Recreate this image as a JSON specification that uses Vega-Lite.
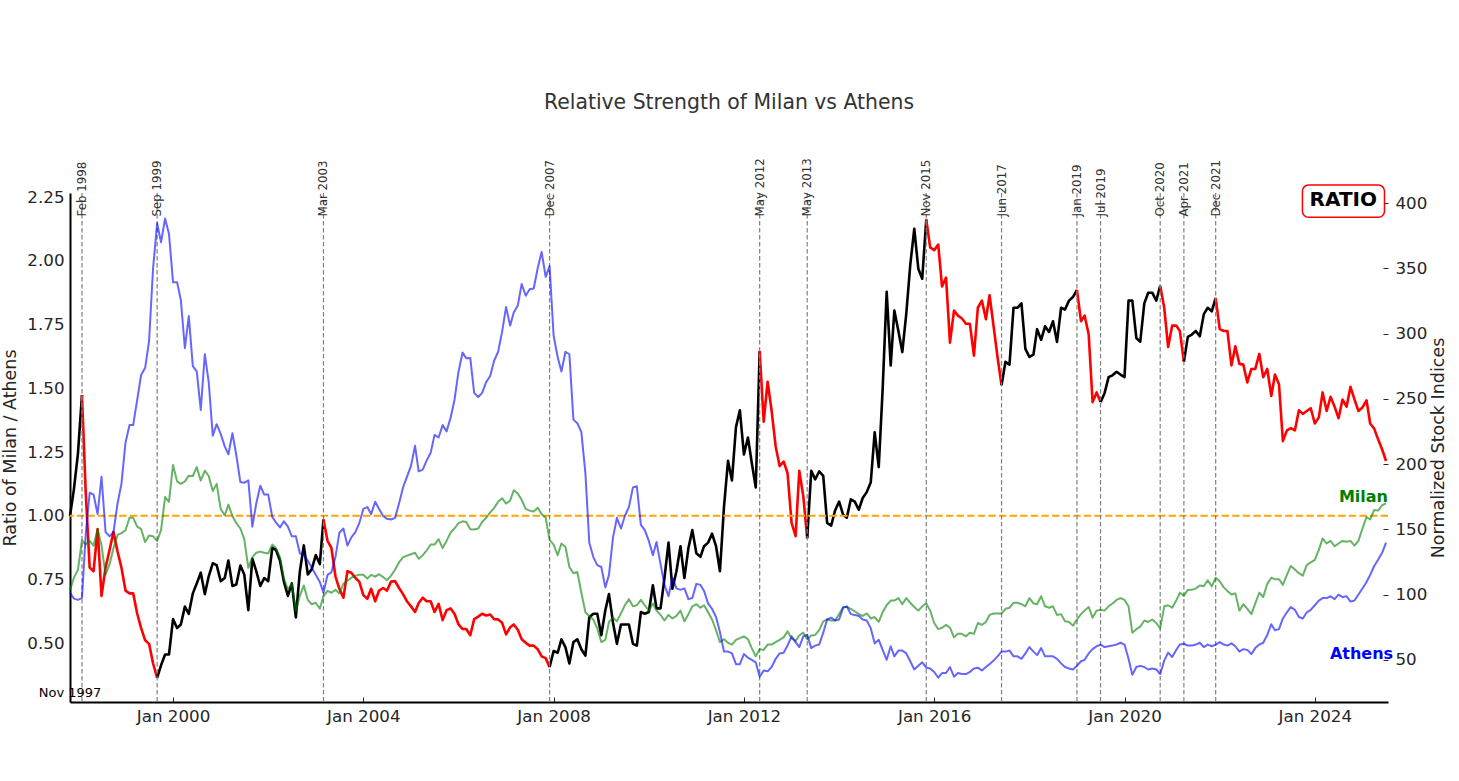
{
"$schema":"https://vega.github.io/schema/vega-lite/v6.json",
"width":1318,"height":509,
"autosize":{"type":"none"},
"padding":{"left":70,"top":193,"right":71,"bottom":79},
"background":"white",
"config":{"view":{"stroke":null},"font":"DejaVu Sans"},
"title":{"text":"Relative Strength of Milan vs Athens","frame":"group","anchor":"middle","offset":45,"fontSize":20.4,"fontWeight":"normal","color":"#333333","font":"DejaVu Sans"},
"datasets":{
"events":[{"date":"1998-02","label":"Feb 1998"},{"date":"1999-09","label":"Sep 1999"},{"date":"2003-03","label":"Mar 2003"},{"date":"2007-12","label":"Dec 2007"},{"date":"2012-05","label":"May 2012"},{"date":"2013-05","label":"May 2013"},{"date":"2015-11","label":"Nov 2015"},{"date":"2017-06","label":"Jun 2017"},{"date":"2019-01","label":"Jan 2019"},{"date":"2019-07","label":"Jul 2019"},{"date":"2020-10","label":"Oct 2020"},{"date":"2021-04","label":"Apr 2021"},{"date":"2021-12","label":"Dec 2021"}],
"milan":[
{"date":"1997-11","value":103.5},{"date":"1997-12","value":113},
{"date":"1998-01","value":119},{"date":"1998-02","value":141.7},{"date":"1998-03","value":138.4},{"date":"1998-04","value":141.2},{"date":"1998-05","value":137.6},{"date":"1998-06","value":150.2},{"date":"1998-07","value":137.6},{"date":"1998-08","value":115.2},{"date":"1998-09","value":123.4},{"date":"1998-10","value":135.7},{"date":"1998-11","value":145.8},{"date":"1998-12","value":147.2},
{"date":"1999-01","value":149.4},{"date":"1999-02","value":158.9},{"date":"1999-03","value":158.9},{"date":"1999-04","value":152.1},{"date":"1999-05","value":150.2},{"date":"1999-06","value":140.3},{"date":"1999-07","value":145.3},{"date":"1999-08","value":144.7},{"date":"1999-09","value":141.2},{"date":"1999-10","value":149.4},{"date":"1999-11","value":174.8},{"date":"1999-12","value":171.2},
{"date":"2000-01","value":199.4},{"date":"2000-02","value":186.8},{"date":"2000-03","value":184.9},{"date":"2000-04","value":186.8},{"date":"2000-05","value":191.2},{"date":"2000-06","value":190.9},{"date":"2000-07","value":197.7},{"date":"2000-08","value":187.4},{"date":"2000-09","value":195.0},{"date":"2000-10","value":190.9},{"date":"2000-11","value":179.4},{"date":"2000-12","value":184.9},
{"date":"2001-01","value":165.7},{"date":"2001-02","value":160.8},{"date":"2001-03","value":169.0},{"date":"2001-04","value":160.3},{"date":"2001-05","value":154.8},{"date":"2001-06","value":150.7},{"date":"2001-07","value":142.5},{"date":"2001-08","value":120.6},{"date":"2001-09","value":128.8},{"date":"2001-10","value":132.1},{"date":"2001-11","value":133.0},{"date":"2001-12","value":132.1},
{"date":"2002-01","value":131.6},{"date":"2002-02","value":138.4},{"date":"2002-03","value":135.7},{"date":"2002-04","value":128.8},{"date":"2002-05","value":112.4},{"date":"2002-06","value":104.2},{"date":"2002-07","value":108.3},{"date":"2002-08","value":87.8},{"date":"2002-09","value":99.3},{"date":"2002-10","value":107.0},{"date":"2002-11","value":96.0},{"date":"2002-12","value":92.7},
{"date":"2003-01","value":93.8},{"date":"2003-02","value":89.2},{"date":"2003-03","value":98.8},{"date":"2003-04","value":102.9},{"date":"2003-05","value":101.5},{"date":"2003-06","value":103.7},{"date":"2003-07","value":101.0},{"date":"2003-08","value":108.3},{"date":"2003-10","value":113.0},{"date":"2003-11","value":114.6},{"date":"2003-12","value":115.2},
{"date":"2004-01","value":115.2},{"date":"2004-02","value":112.4},{"date":"2004-03","value":115.2},{"date":"2004-04","value":113.8},{"date":"2004-05","value":115.7},{"date":"2004-06","value":113.5},{"date":"2004-07","value":111.1},{"date":"2004-08","value":114.6},{"date":"2004-09","value":119.3},{"date":"2004-10","value":124.7},{"date":"2004-11","value":128.8},
{"date":"2005-02","value":132.1},{"date":"2005-03","value":127.5},{"date":"2005-04","value":130.3},{"date":"2005-05","value":133.8},{"date":"2005-06","value":138.4},{"date":"2005-07","value":138.4},{"date":"2005-08","value":142.5},{"date":"2005-09","value":135.7},{"date":"2005-10","value":141.2},{"date":"2005-11","value":147.5},{"date":"2005-12","value":150.7},
{"date":"2006-01","value":154.8},{"date":"2006-02","value":156.2},{"date":"2006-03","value":155.7},{"date":"2006-04","value":150.2},{"date":"2006-05","value":149.9},{"date":"2006-06","value":150.7},{"date":"2006-07","value":155.7},{"date":"2006-08","value":158.9},{"date":"2006-09","value":163.0},{"date":"2006-10","value":166.3},{"date":"2006-11","value":171.2},{"date":"2006-12","value":173.9},
{"date":"2007-01","value":169.8},{"date":"2007-02","value":172.0},{"date":"2007-03","value":180.0},{"date":"2007-04","value":177.5},{"date":"2007-05","value":172.6},{"date":"2007-06","value":165.7},{"date":"2007-07","value":164.4},{"date":"2007-08","value":163.8},{"date":"2007-09","value":166.6},{"date":"2007-10","value":161.7},{"date":"2007-11","value":158.9},{"date":"2007-12","value":142.0},
{"date":"2008-01","value":138.4},{"date":"2008-02","value":130.2},{"date":"2008-03","value":139.2},{"date":"2008-04","value":136.5},{"date":"2008-05","value":121.2},{"date":"2008-06","value":116.5},{"date":"2008-07","value":117.4},{"date":"2008-08","value":101.5},{"date":"2008-09","value":86.5},{"date":"2008-10","value":83.7},{"date":"2008-11","value":81.0},{"date":"2008-12","value":74.2},
{"date":"2009-01","value":63.7},{"date":"2009-02","value":65.4},{"date":"2009-03","value":79.1},{"date":"2009-04","value":82.4},{"date":"2009-05","value":79.6},{"date":"2009-06","value":85.7},{"date":"2009-07","value":91.9},{"date":"2009-08","value":96.6},{"date":"2009-09","value":91.1},{"date":"2009-10","value":91.9},{"date":"2009-11","value":96.0},{"date":"2009-12","value":91.9},
{"date":"2010-01","value":87.8},{"date":"2010-02","value":93.3},{"date":"2010-03","value":87.8},{"date":"2010-04","value":84.5},{"date":"2010-05","value":80.2},{"date":"2010-06","value":84.5},{"date":"2010-07","value":81.8},{"date":"2010-08","value":83.7},{"date":"2010-09","value":87.8},{"date":"2010-10","value":79.6},{"date":"2010-11","value":85.1},{"date":"2010-12","value":91.1},
{"date":"2011-01","value":92.7},{"date":"2011-02","value":90.0},{"date":"2011-03","value":91.9},{"date":"2011-04","value":86.5},{"date":"2011-05","value":81.0},{"date":"2011-06","value":72.8},{"date":"2011-07","value":63.7},{"date":"2011-08","value":65.9},{"date":"2011-09","value":63.2},{"date":"2011-10","value":61.8},{"date":"2011-11","value":65.4},
{"date":"2012-01","value":68.1},{"date":"2012-02","value":65.9},{"date":"2012-03","value":59.1},{"date":"2012-04","value":52.8},{"date":"2012-05","value":58.3},{"date":"2012-06","value":57.7},{"date":"2012-07","value":61.8},{"date":"2012-08","value":61.8},{"date":"2012-09","value":63.7},{"date":"2012-10","value":65.4},{"date":"2012-11","value":67.3},{"date":"2012-12","value":72.0},
{"date":"2013-01","value":66.5},{"date":"2013-02","value":64.6},{"date":"2013-03","value":68.7},{"date":"2013-04","value":70.9},{"date":"2013-05","value":65.9},{"date":"2013-06","value":68.7},{"date":"2013-07","value":69.2},{"date":"2013-08","value":72.8},{"date":"2013-09","value":79.6},{"date":"2013-10","value":81.0},{"date":"2013-11","value":80.2},{"date":"2013-12","value":80.2},
{"date":"2014-01","value":85.1},{"date":"2014-02","value":90.6},{"date":"2014-03","value":90.6},{"date":"2014-04","value":89.2},{"date":"2014-05","value":87.3},{"date":"2014-06","value":85.1},{"date":"2014-07","value":83.7},{"date":"2014-08","value":85.6},{"date":"2014-09","value":81.8},{"date":"2014-10","value":82.9},{"date":"2014-11","value":79.1},{"date":"2014-12","value":86.5},
{"date":"2015-01","value":91.9},{"date":"2015-02","value":95.5},{"date":"2015-03","value":95.5},{"date":"2015-04","value":97.4},{"date":"2015-05","value":92.7},{"date":"2015-06","value":97.4},{"date":"2015-07","value":93.8},{"date":"2015-08","value":90.6},{"date":"2015-09","value":87.8},{"date":"2015-10","value":91.1},{"date":"2015-11","value":93.3},{"date":"2015-12","value":87.8},
{"date":"2016-01","value":78.3},{"date":"2016-02","value":73.6},{"date":"2016-03","value":74.7},{"date":"2016-04","value":76.9},{"date":"2016-05","value":74.7},{"date":"2016-06","value":67.3},{"date":"2016-07","value":70.0},{"date":"2016-08","value":70.0},{"date":"2016-09","value":68.1},{"date":"2016-10","value":70.9},{"date":"2016-11","value":70.0},{"date":"2016-12","value":78.3},
{"date":"2017-01","value":76.9},{"date":"2017-02","value":79.1},{"date":"2017-03","value":84.5},{"date":"2017-04","value":85.6},{"date":"2017-05","value":85.6},{"date":"2017-06","value":85.6},{"date":"2017-07","value":89.2},{"date":"2017-08","value":90.0},{"date":"2017-09","value":93.8},{"date":"2017-10","value":93.8},{"date":"2017-11","value":92.7},{"date":"2017-12","value":91.1},
{"date":"2018-01","value":97.4},{"date":"2018-02","value":93.3},{"date":"2018-03","value":92.7},{"date":"2018-04","value":98.8},{"date":"2018-05","value":91.1},{"date":"2018-06","value":90.0},{"date":"2018-07","value":91.1},{"date":"2018-08","value":84.5},{"date":"2018-09","value":85.1},{"date":"2018-10","value":79.6},{"date":"2018-11","value":79.1},{"date":"2018-12","value":76.3},
{"date":"2019-01","value":81.0},{"date":"2019-02","value":85.1},{"date":"2019-03","value":87.8},{"date":"2019-04","value":90.6},{"date":"2019-05","value":82.4},{"date":"2019-06","value":87.8},{"date":"2019-07","value":88.4},{"date":"2019-08","value":87.8},{"date":"2019-09","value":91.1},{"date":"2019-10","value":93.3},{"date":"2019-11","value":96.0},{"date":"2019-12","value":97.4},
{"date":"2020-01","value":96.0},{"date":"2020-02","value":91.1},{"date":"2020-03","value":70.9},{"date":"2020-04","value":73.6},{"date":"2020-05","value":75.5},{"date":"2020-06","value":80.2},{"date":"2020-07","value":79.1},{"date":"2020-08","value":81.0},{"date":"2020-09","value":78.3},{"date":"2020-10","value":74.2},{"date":"2020-11","value":91.1},{"date":"2020-12","value":91.9},
{"date":"2021-01","value":90.0},{"date":"2021-02","value":95.5},{"date":"2021-03","value":101.5},{"date":"2021-04","value":99.3},{"date":"2021-05","value":103.7},{"date":"2021-06","value":103.7},{"date":"2021-07","value":104.8},{"date":"2021-08","value":107.0},{"date":"2021-09","value":106.4},{"date":"2021-10","value":111.1},{"date":"2021-11","value":106.4},{"date":"2021-12","value":113.0},
{"date":"2022-01","value":110.3},{"date":"2022-02","value":105.6},{"date":"2022-03","value":102.9},{"date":"2022-04","value":100.1},{"date":"2022-05","value":101.0},{"date":"2022-06","value":87.8},{"date":"2022-07","value":92.7},{"date":"2022-08","value":89.2},{"date":"2022-09","value":85.1},{"date":"2022-10","value":93.3},{"date":"2022-11","value":101.5},{"date":"2022-12","value":98.2},
{"date":"2023-01","value":108.3},{"date":"2023-02","value":113.0},{"date":"2023-03","value":111.9},{"date":"2023-04","value":111.9},{"date":"2023-05","value":107.5},{"date":"2023-06","value":115.2},{"date":"2023-07","value":122.0},{"date":"2023-08","value":119.3},{"date":"2023-09","value":116.5},{"date":"2023-10","value":114.6},{"date":"2023-11","value":122.8},{"date":"2023-12","value":124.7},
{"date":"2024-01","value":126.7},{"date":"2024-02","value":134.3},{"date":"2024-03","value":143.1},{"date":"2024-04","value":139.2},{"date":"2024-05","value":141.2},{"date":"2024-06","value":137.1},{"date":"2024-07","value":139.2},{"date":"2024-08","value":141.2},{"date":"2024-09","value":140.6},{"date":"2024-10","value":141.2},{"date":"2024-11","value":137.6},{"date":"2024-12","value":141.2},
{"date":"2025-01","value":150.7},{"date":"2025-02","value":159.5},{"date":"2025-03","value":157.6},{"date":"2025-04","value":164.9},{"date":"2025-05","value":164.4},{"date":"2025-06","value":168.5},{"date":"2025-07","value":169.9}
],
"athens":[
{"date":"1997-11","value":101.4},{"date":"1997-12","value":97},
{"date":"1998-01","value":96},{"date":"1998-02","value":97.5},{"date":"1998-03","value":145},{"date":"1998-04","value":178.1},{"date":"1998-05","value":176.7},{"date":"1998-06","value":161.7},{"date":"1998-07","value":190.4},{"date":"1998-08","value":148.0},{"date":"1998-09","value":144.7},{"date":"1998-10","value":148.0},{"date":"1998-11","value":169.9},{"date":"1998-12","value":184.9},
{"date":"1999-01","value":216.4},{"date":"1999-02","value":230.0},{"date":"1999-03","value":230.0},{"date":"1999-04","value":249.2},{"date":"1999-05","value":268.3},{"date":"1999-06","value":273.8},{"date":"1999-07","value":294.3},{"date":"1999-08","value":350.3},{"date":"1999-09","value":384.5},{"date":"1999-10","value":370.0},{"date":"1999-11","value":388.1},{"date":"1999-12","value":376.3},
{"date":"2000-01","value":339.4},{"date":"2000-02","value":339.4},{"date":"2000-03","value":325.7},{"date":"2000-04","value":288.8},{"date":"2000-05","value":313.4},{"date":"2000-06","value":275.1},{"date":"2000-07","value":271.0},{"date":"2000-08","value":241.5},{"date":"2000-09","value":284.2},{"date":"2000-10","value":262.8},{"date":"2000-11","value":221.8},{"date":"2000-12","value":230.6},
{"date":"2001-01","value":223.2},{"date":"2001-02","value":213.6},{"date":"2001-03","value":207.6},{"date":"2001-04","value":223.7},{"date":"2001-05","value":206.8},{"date":"2001-06","value":186.3},{"date":"2001-07","value":185.7},{"date":"2001-08","value":187.6},{"date":"2001-09","value":152.1},{"date":"2001-10","value":169.9},{"date":"2001-11","value":183.5},{"date":"2001-12","value":176.7},
{"date":"2002-01","value":176.7},{"date":"2002-02","value":159.5},{"date":"2002-03","value":155.4},{"date":"2002-04","value":151.5},{"date":"2002-05","value":156.2},{"date":"2002-06","value":152.1},{"date":"2002-07","value":144.7},{"date":"2002-08","value":144.7},{"date":"2002-09","value":131.6},{"date":"2002-10","value":130.2},{"date":"2002-11","value":126.1},{"date":"2002-12","value":120.6},
{"date":"2003-01","value":115.2},{"date":"2003-02","value":109.7},{"date":"2003-03","value":101.5},{"date":"2003-04","value":115.2},{"date":"2003-05","value":117.1},{"date":"2003-06","value":128.8},{"date":"2003-07","value":147.5},{"date":"2003-08","value":150.7},{"date":"2003-09","value":137.6},{"date":"2003-10","value":143.9},{"date":"2003-11","value":148.0},{"date":"2003-12","value":154.8},
{"date":"2004-01","value":165.7},{"date":"2004-02","value":167.1},{"date":"2004-03","value":161.7},{"date":"2004-04","value":171.2},{"date":"2004-05","value":165.7},{"date":"2004-06","value":160.3},{"date":"2004-07","value":158.1},{"date":"2004-08","value":157.6},{"date":"2004-09","value":158.9},{"date":"2004-10","value":169.9},{"date":"2004-11","value":182.2},
{"date":"2005-01","value":198.6},{"date":"2005-02","value":214.1},{"date":"2005-03","value":194.5},{"date":"2005-04","value":195.8},{"date":"2005-05","value":202.7},{"date":"2005-06","value":208.7},{"date":"2005-07","value":222.4},{"date":"2005-08","value":220.4},{"date":"2005-09","value":230.0},{"date":"2005-10","value":225.1},{"date":"2005-11","value":235.5},{"date":"2005-12","value":249.2},
{"date":"2006-01","value":271.0},{"date":"2006-02","value":285.5},{"date":"2006-03","value":281.2},{"date":"2006-04","value":281.4},{"date":"2006-05","value":254.6},{"date":"2006-06","value":251.4},{"date":"2006-07","value":254.6},{"date":"2006-08","value":262.8},{"date":"2006-09","value":267.5},{"date":"2006-10","value":279.2},{"date":"2006-11","value":286.1},{"date":"2006-12","value":301.1},
{"date":"2007-01","value":320.3},{"date":"2007-02","value":306.1},{"date":"2007-03","value":316.2},{"date":"2007-04","value":321.6},{"date":"2007-05","value":338.0},{"date":"2007-06","value":329.0},{"date":"2007-07","value":333.9},{"date":"2007-08","value":334.5},{"date":"2007-09","value":350.3},{"date":"2007-10","value":362.6},{"date":"2007-11","value":343.5},{"date":"2007-12","value":351.7},
{"date":"2008-01","value":298.4},{"date":"2008-02","value":282.0},{"date":"2008-03","value":271.0},{"date":"2008-04","value":286.1},{"date":"2008-05","value":284.2},{"date":"2008-06","value":234.1},{"date":"2008-07","value":231.4},{"date":"2008-08","value":224.5},{"date":"2008-09","value":193.1},{"date":"2008-10","value":139.8},{"date":"2008-11","value":128.8},{"date":"2008-12","value":122.6},
{"date":"2009-01","value":121.2},{"date":"2009-02","value":105.6},{"date":"2009-03","value":115.2},{"date":"2009-04","value":143.9},{"date":"2009-05","value":158.9},{"date":"2009-06","value":150.7},{"date":"2009-07","value":160.3},{"date":"2009-08","value":167.1},{"date":"2009-09","value":182.2},{"date":"2009-10","value":183.0},{"date":"2009-11","value":153.5},{"date":"2009-12","value":149.4},
{"date":"2010-01","value":141.2},{"date":"2010-02","value":130.2},{"date":"2010-03","value":140.3},{"date":"2010-04","value":123.4},{"date":"2010-05","value":107.5},{"date":"2010-06","value":98.8},{"date":"2010-07","value":113.0},{"date":"2010-08","value":104.8},{"date":"2010-09","value":103.7},{"date":"2010-10","value":104.8},{"date":"2010-11","value":96.6},{"date":"2010-12","value":97.4},
{"date":"2011-01","value":108.3},{"date":"2011-02","value":107.5},{"date":"2011-03","value":102.9},{"date":"2011-04","value":93.3},{"date":"2011-05","value":89.2},{"date":"2011-06","value":82.9},{"date":"2011-07","value":71.4},{"date":"2011-08","value":56.4},{"date":"2011-09","value":56.4},{"date":"2011-10","value":55.0},{"date":"2011-11","value":46.8},{"date":"2011-12","value":46.8},
{"date":"2012-01","value":54.5},{"date":"2012-02","value":51.7},{"date":"2012-03","value":50.1},{"date":"2012-04","value":48.2},{"date":"2012-05","value":37.2},{"date":"2012-06","value":41.9},{"date":"2012-07","value":41.3},{"date":"2012-08","value":44.6},{"date":"2012-09","value":50.9},{"date":"2012-10","value":55.0},{"date":"2012-11","value":55.6},{"date":"2012-12","value":61.0},
{"date":"2013-01","value":68.1},{"date":"2013-02","value":63.7},{"date":"2013-03","value":59.9},{"date":"2013-04","value":68.1},{"date":"2013-05","value":69.2},{"date":"2013-06","value":59.1},{"date":"2013-07","value":61.0},{"date":"2013-08","value":61.8},{"date":"2013-09","value":70.9},{"date":"2013-10","value":81.0},{"date":"2013-11","value":82.4},{"date":"2013-12","value":80.2},
{"date":"2014-01","value":81.0},{"date":"2014-02","value":90.0},{"date":"2014-03","value":91.1},{"date":"2014-04","value":85.1},{"date":"2014-05","value":84.5},{"date":"2014-06","value":83.7},{"date":"2014-07","value":81.0},{"date":"2014-08","value":80.2},{"date":"2014-09","value":74.2},{"date":"2014-10","value":62.7},{"date":"2014-11","value":65.4},{"date":"2014-12","value":57.7},
{"date":"2015-01","value":50.1},{"date":"2015-02","value":60.5},{"date":"2015-03","value":52.8},{"date":"2015-04","value":57.2},{"date":"2015-05","value":57.2},{"date":"2015-06","value":55.0},{"date":"2015-07","value":49.0},{"date":"2015-08","value":42.7},{"date":"2015-09","value":45.5},{"date":"2015-10","value":48.2},{"date":"2015-11","value":44.1},{"date":"2015-12","value":43.5},
{"date":"2016-01","value":40.8},{"date":"2016-02","value":36.4},{"date":"2016-03","value":40.0},{"date":"2016-04","value":40.0},{"date":"2016-05","value":44.6},{"date":"2016-06","value":37.2},{"date":"2016-07","value":40.0},{"date":"2016-08","value":39.2},{"date":"2016-09","value":39.2},{"date":"2016-10","value":40.8},{"date":"2016-11","value":43.5},{"date":"2016-12","value":44.1},
{"date":"2017-01","value":41.9},{"date":"2017-02","value":44.6},{"date":"2017-03","value":46.8},{"date":"2017-04","value":49.5},{"date":"2017-05","value":52.8},{"date":"2017-06","value":56.4},{"date":"2017-07","value":56.4},{"date":"2017-08","value":57.2},{"date":"2017-09","value":52.8},{"date":"2017-10","value":52.8},{"date":"2017-11","value":50.9},{"date":"2017-12","value":55.0},
{"date":"2018-01","value":59.9},{"date":"2018-02","value":56.4},{"date":"2018-03","value":53.7},{"date":"2018-04","value":59.1},{"date":"2018-05","value":52.8},{"date":"2018-06","value":52.8},{"date":"2018-07","value":52.8},{"date":"2018-08","value":50.9},{"date":"2018-09","value":47.4},{"date":"2018-10","value":44.6},{"date":"2018-11","value":43.5},{"date":"2018-12","value":42.7},
{"date":"2019-01","value":45.5},{"date":"2019-02","value":49.0},{"date":"2019-03","value":50.1},{"date":"2019-04","value":55.0},{"date":"2019-05","value":58.3},{"date":"2019-06","value":60.5},{"date":"2019-07","value":61.8},{"date":"2019-08","value":59.9},{"date":"2019-09","value":60.5},{"date":"2019-10","value":61.0},{"date":"2019-11","value":61.8},{"date":"2019-12","value":63.2},
{"date":"2020-01","value":61.8},{"date":"2020-02","value":50.9},{"date":"2020-03","value":38.6},{"date":"2020-04","value":44.6},{"date":"2020-05","value":45.5},{"date":"2020-06","value":44.6},{"date":"2020-07","value":42.7},{"date":"2020-08","value":43.5},{"date":"2020-09","value":42.7},{"date":"2020-10","value":39.2},{"date":"2020-11","value":49.5},{"date":"2020-12","value":55.6},
{"date":"2021-01","value":52.3},{"date":"2021-02","value":57.7},{"date":"2021-03","value":61.8},{"date":"2021-04","value":62.4},{"date":"2021-05","value":61.0},{"date":"2021-06","value":61.0},{"date":"2021-07","value":61.8},{"date":"2021-08","value":63.2},{"date":"2021-09","value":59.9},{"date":"2021-10","value":61.8},{"date":"2021-11","value":60.5},{"date":"2021-12","value":61.8},
{"date":"2022-01","value":63.7},{"date":"2022-02","value":61.8},{"date":"2022-03","value":61.0},{"date":"2022-04","value":62.7},{"date":"2022-05","value":60.5},{"date":"2022-06","value":56.4},{"date":"2022-07","value":58.3},{"date":"2022-08","value":57.7},{"date":"2022-09","value":54.5},{"date":"2022-10","value":59.1},{"date":"2022-11","value":61.8},{"date":"2022-12","value":63.2},
{"date":"2023-01","value":69.2},{"date":"2023-02","value":77.4},{"date":"2023-03","value":72.8},{"date":"2023-04","value":73.6},{"date":"2023-05","value":81.8},{"date":"2023-06","value":86.5},{"date":"2023-07","value":90.6},{"date":"2023-08","value":88.4},{"date":"2023-09","value":82.9},{"date":"2023-10","value":81.8},{"date":"2023-11","value":86.5},{"date":"2023-12","value":88.4},
{"date":"2024-01","value":91.9},{"date":"2024-02","value":95.5},{"date":"2024-03","value":97.4},{"date":"2024-04","value":97.4},{"date":"2024-05","value":98.8},{"date":"2024-06","value":96.6},{"date":"2024-07","value":100.1},{"date":"2024-08","value":98.2},{"date":"2024-09","value":98.8},{"date":"2024-10","value":94.7},{"date":"2024-11","value":95.5},{"date":"2024-12","value":100.1},
{"date":"2025-01","value":104.8},{"date":"2025-02","value":109.7},{"date":"2025-03","value":115.2},{"date":"2025-04","value":122.0},{"date":"2025-05","value":126.7},{"date":"2025-06","value":132.1},{"date":"2025-07","value":139.8}
],
"ratio":[
{"date":"1997-11","ratio":1.0,"seg":0},{"date":"1997-12","ratio":1.104,"seg":0},{"date":"1998-01","ratio":1.244,"seg":0},{"date":"1998-02","ratio":1.474,"seg":0},
{"date":"1998-02","ratio":1.474,"seg":1},{"date":"1998-03","ratio":1.10,"seg":1},{"date":"1998-04","ratio":0.797,"seg":1},{"date":"1998-05","ratio":0.783,"seg":1},{"date":"1998-06","ratio":0.948,"seg":1},{"date":"1998-07","ratio":0.686,"seg":1},{"date":"1998-08","ratio":0.797,"seg":1},{"date":"1998-09","ratio":0.867,"seg":1},{"date":"1998-10","ratio":0.937,"seg":1},{"date":"1998-11","ratio":0.860,"seg":1},{"date":"1998-12","ratio":0.797,"seg":1},{"date":"1999-01","ratio":0.707,"seg":1},{"date":"1999-02","ratio":0.696,"seg":1},{"date":"1999-03","ratio":0.696,"seg":1},{"date":"1999-04","ratio":0.616,"seg":1},{"date":"1999-05","ratio":0.560,"seg":1},{"date":"1999-06","ratio":0.512,"seg":1},{"date":"1999-07","ratio":0.498,"seg":1},{"date":"1999-08","ratio":0.421,"seg":1},{"date":"1999-09","ratio":0.365,"seg":1},
{"date":"1999-09","ratio":0.365,"seg":2},{"date":"1999-10","ratio":0.414,"seg":2},{"date":"1999-11","ratio":0.456,"seg":2},{"date":"1999-12","ratio":0.456,"seg":2},
{"date":"2000-01","ratio":0.595,"seg":2},{"date":"2000-02","ratio":0.560,"seg":2},{"date":"2000-03","ratio":0.574,"seg":2},{"date":"2000-04","ratio":0.644,"seg":2},{"date":"2000-05","ratio":0.616,"seg":2},{"date":"2000-06","ratio":0.696,"seg":2},{"date":"2000-07","ratio":0.735,"seg":2},{"date":"2000-08","ratio":0.777,"seg":2},{"date":"2000-09","ratio":0.693,"seg":2},{"date":"2000-10","ratio":0.763,"seg":2},{"date":"2000-11","ratio":0.814,"seg":2},{"date":"2000-12","ratio":0.807,"seg":2},
{"date":"2001-01","ratio":0.744,"seg":2},{"date":"2001-02","ratio":0.756,"seg":2},{"date":"2001-03","ratio":0.825,"seg":2},{"date":"2001-04","ratio":0.725,"seg":2},{"date":"2001-05","ratio":0.731,"seg":2},{"date":"2001-06","ratio":0.805,"seg":2},{"date":"2001-07","ratio":0.770,"seg":2},{"date":"2001-08","ratio":0.630,"seg":2},{"date":"2001-09","ratio":0.832,"seg":2},{"date":"2001-10","ratio":0.783,"seg":2},{"date":"2001-11","ratio":0.725,"seg":2},{"date":"2001-12","ratio":0.756,"seg":2},
{"date":"2002-01","ratio":0.744,"seg":2},{"date":"2002-02","ratio":0.874,"seg":2},{"date":"2002-03","ratio":0.867,"seg":2},{"date":"2002-04","ratio":0.825,"seg":2},{"date":"2002-05","ratio":0.742,"seg":2},{"date":"2002-06","ratio":0.686,"seg":2},{"date":"2002-07","ratio":0.735,"seg":2},{"date":"2002-08","ratio":0.602,"seg":2},{"date":"2002-09","ratio":0.783,"seg":2},{"date":"2002-10","ratio":0.884,"seg":2},{"date":"2002-11","ratio":0.770,"seg":2},{"date":"2002-12","ratio":0.791,"seg":2},
{"date":"2003-01","ratio":0.846,"seg":2},{"date":"2003-02","ratio":0.811,"seg":2},{"date":"2003-03","ratio":0.986,"seg":2},
{"date":"2003-03","ratio":0.986,"seg":3},{"date":"2003-04","ratio":0.902,"seg":3},{"date":"2003-05","ratio":0.874,"seg":3},{"date":"2003-06","ratio":0.763,"seg":3},{"date":"2003-07","ratio":0.714,"seg":3},{"date":"2003-08","ratio":0.679,"seg":3},{"date":"2003-09","ratio":0.783,"seg":3},{"date":"2003-10","ratio":0.777,"seg":3},{"date":"2003-11","ratio":0.756,"seg":3},{"date":"2003-12","ratio":0.742,"seg":3},
{"date":"2004-01","ratio":0.689,"seg":3},{"date":"2004-02","ratio":0.675,"seg":3},{"date":"2004-03","ratio":0.714,"seg":3},{"date":"2004-04","ratio":0.665,"seg":3},{"date":"2004-05","ratio":0.707,"seg":3},{"date":"2004-06","ratio":0.717,"seg":3},{"date":"2004-07","ratio":0.707,"seg":3},{"date":"2004-08","ratio":0.742,"seg":3},{"date":"2004-09","ratio":0.744,"seg":3},{"date":"2004-10","ratio":0.717,"seg":3},{"date":"2004-11","ratio":0.693,"seg":3},{"date":"2004-12","ratio":0.665,"seg":3},
{"date":"2005-01","ratio":0.645,"seg":3},{"date":"2005-02","ratio":0.623,"seg":3},{"date":"2005-03","ratio":0.658,"seg":3},{"date":"2005-04","ratio":0.679,"seg":3},{"date":"2005-05","ratio":0.665,"seg":3},{"date":"2005-06","ratio":0.665,"seg":3},{"date":"2005-07","ratio":0.623,"seg":3},{"date":"2005-08","ratio":0.655,"seg":3},{"date":"2005-09","ratio":0.591,"seg":3},{"date":"2005-10","ratio":0.630,"seg":3},{"date":"2005-11","ratio":0.637,"seg":3},{"date":"2005-12","ratio":0.616,"seg":3},
{"date":"2006-01","ratio":0.574,"seg":3},{"date":"2006-02","ratio":0.556,"seg":3},{"date":"2006-03","ratio":0.556,"seg":3},{"date":"2006-04","ratio":0.532,"seg":3},{"date":"2006-05","ratio":0.595,"seg":3},{"date":"2006-06","ratio":0.605,"seg":3},{"date":"2006-07","ratio":0.616,"seg":3},{"date":"2006-08","ratio":0.609,"seg":3},{"date":"2006-09","ratio":0.613,"seg":3},{"date":"2006-10","ratio":0.595,"seg":3},{"date":"2006-11","ratio":0.594,"seg":3},{"date":"2006-12","ratio":0.581,"seg":3},
{"date":"2007-01","ratio":0.535,"seg":3},{"date":"2007-02","ratio":0.563,"seg":3},{"date":"2007-03","ratio":0.574,"seg":3},{"date":"2007-04","ratio":0.553,"seg":3},{"date":"2007-05","ratio":0.516,"seg":3},{"date":"2007-06","ratio":0.502,"seg":3},{"date":"2007-07","ratio":0.491,"seg":3},{"date":"2007-08","ratio":0.491,"seg":3},{"date":"2007-09","ratio":0.477,"seg":3},{"date":"2007-10","ratio":0.449,"seg":3},{"date":"2007-11","ratio":0.442,"seg":3},{"date":"2007-12","ratio":0.407,"seg":3},
{"date":"2007-12","ratio":0.407,"seg":4},
{"date":"2008-01","ratio":0.470,"seg":4},{"date":"2008-02","ratio":0.463,"seg":4},{"date":"2008-03","ratio":0.516,"seg":4},{"date":"2008-04","ratio":0.484,"seg":4},{"date":"2008-05","ratio":0.421,"seg":4},{"date":"2008-06","ratio":0.505,"seg":4},{"date":"2008-07","ratio":0.516,"seg":4},{"date":"2008-08","ratio":0.477,"seg":4},{"date":"2008-09","ratio":0.452,"seg":4},{"date":"2008-10","ratio":0.602,"seg":4},{"date":"2008-11","ratio":0.616,"seg":4},{"date":"2008-12","ratio":0.616,"seg":4},
{"date":"2009-01","ratio":0.532,"seg":4},{"date":"2009-02","ratio":0.630,"seg":4},{"date":"2009-03","ratio":0.693,"seg":4},{"date":"2009-04","ratio":0.581,"seg":4},{"date":"2009-05","ratio":0.498,"seg":4},{"date":"2009-06","ratio":0.574,"seg":4},{"date":"2009-07","ratio":0.574,"seg":4},{"date":"2009-08","ratio":0.574,"seg":4},{"date":"2009-09","ratio":0.498,"seg":4},{"date":"2009-10","ratio":0.491,"seg":4},{"date":"2009-11","ratio":0.623,"seg":4},{"date":"2009-12","ratio":0.616,"seg":4},
{"date":"2010-01","ratio":0.623,"seg":4},{"date":"2010-02","ratio":0.728,"seg":4},{"date":"2010-03","ratio":0.637,"seg":4},{"date":"2010-04","ratio":0.637,"seg":4},{"date":"2010-05","ratio":0.756,"seg":4},{"date":"2010-06","ratio":0.895,"seg":4},{"date":"2010-07","ratio":0.714,"seg":4},{"date":"2010-08","ratio":0.783,"seg":4},{"date":"2010-09","ratio":0.881,"seg":4},{"date":"2010-10","ratio":0.756,"seg":4},{"date":"2010-11","ratio":0.874,"seg":4},{"date":"2010-12","ratio":0.944,"seg":4},
{"date":"2011-01","ratio":0.853,"seg":4},{"date":"2011-02","ratio":0.839,"seg":4},{"date":"2011-03","ratio":0.881,"seg":4},{"date":"2011-04","ratio":0.895,"seg":4},{"date":"2011-05","ratio":0.930,"seg":4},{"date":"2011-06","ratio":0.881,"seg":4},{"date":"2011-07","ratio":0.783,"seg":4},{"date":"2011-08","ratio":1.035,"seg":4},{"date":"2011-09","ratio":1.216,"seg":4},{"date":"2011-10","ratio":1.139,"seg":4},{"date":"2011-11","ratio":1.348,"seg":4},{"date":"2011-12","ratio":1.414,"seg":4},
{"date":"2012-01","ratio":1.241,"seg":4},{"date":"2012-02","ratio":1.307,"seg":4},{"date":"2012-03","ratio":1.209,"seg":4},{"date":"2012-04","ratio":1.111,"seg":4},{"date":"2012-05","ratio":1.646,"seg":4},
{"date":"2012-05","ratio":1.646,"seg":5},{"date":"2012-06","ratio":1.369,"seg":5},{"date":"2012-07","ratio":1.526,"seg":5},{"date":"2012-08","ratio":1.411,"seg":5},{"date":"2012-09","ratio":1.272,"seg":5},{"date":"2012-10","ratio":1.195,"seg":5},{"date":"2012-11","ratio":1.213,"seg":5},{"date":"2012-12","ratio":1.167,"seg":5},{"date":"2013-01","ratio":0.972,"seg":5},{"date":"2013-02","ratio":0.920,"seg":5},{"date":"2013-03","ratio":1.177,"seg":5},{"date":"2013-04","ratio":1.076,"seg":5},{"date":"2013-05","ratio":0.912,"seg":5},
{"date":"2013-05","ratio":0.912,"seg":6},{"date":"2013-06","ratio":1.177,"seg":6},{"date":"2013-07","ratio":1.143,"seg":6},{"date":"2013-08","ratio":1.174,"seg":6},{"date":"2013-09","ratio":1.157,"seg":6},{"date":"2013-10","ratio":0.972,"seg":6},{"date":"2013-11","ratio":0.962,"seg":6},{"date":"2013-12","ratio":1.021,"seg":6},
{"date":"2014-01","ratio":1.056,"seg":6},{"date":"2014-02","ratio":1.004,"seg":6},{"date":"2014-03","ratio":0.993,"seg":6},{"date":"2014-04","ratio":1.065,"seg":6},{"date":"2014-05","ratio":1.056,"seg":6},{"date":"2014-06","ratio":1.024,"seg":6},{"date":"2014-07","ratio":1.070,"seg":6},{"date":"2014-08","ratio":1.093,"seg":6},{"date":"2014-09","ratio":1.132,"seg":6},{"date":"2014-10","ratio":1.328,"seg":6},{"date":"2014-11","ratio":1.191,"seg":6},{"date":"2014-12","ratio":1.495,"seg":6},
{"date":"2015-01","ratio":1.879,"seg":6},{"date":"2015-02","ratio":1.590,"seg":6},{"date":"2015-03","ratio":1.805,"seg":6},{"date":"2015-04","ratio":1.725,"seg":6},{"date":"2015-05","ratio":1.642,"seg":6},{"date":"2015-06","ratio":1.795,"seg":6},{"date":"2015-07","ratio":1.983,"seg":6},{"date":"2015-08","ratio":2.126,"seg":6},{"date":"2015-09","ratio":1.969,"seg":6},{"date":"2015-10","ratio":1.930,"seg":6},{"date":"2015-11","ratio":2.162,"seg":6},
{"date":"2015-11","ratio":2.162,"seg":7},{"date":"2015-12","ratio":2.053,"seg":7},
{"date":"2016-01","ratio":2.042,"seg":7},{"date":"2016-02","ratio":2.064,"seg":7},{"date":"2016-03","ratio":1.900,"seg":7},{"date":"2016-04","ratio":1.934,"seg":7},{"date":"2016-05","ratio":1.679,"seg":7},{"date":"2016-06","ratio":1.805,"seg":7},{"date":"2016-07","ratio":1.785,"seg":7},{"date":"2016-08","ratio":1.774,"seg":7},{"date":"2016-09","ratio":1.753,"seg":7},{"date":"2016-10","ratio":1.753,"seg":7},{"date":"2016-11","ratio":1.628,"seg":7},{"date":"2016-12","ratio":1.816,"seg":7},
{"date":"2017-01","ratio":1.844,"seg":7},{"date":"2017-02","ratio":1.771,"seg":7},{"date":"2017-03","ratio":1.865,"seg":7},{"date":"2017-04","ratio":1.743,"seg":7},{"date":"2017-05","ratio":1.623,"seg":7},{"date":"2017-06","ratio":1.512,"seg":7},
{"date":"2017-06","ratio":1.512,"seg":8},{"date":"2017-07","ratio":1.604,"seg":8},{"date":"2017-08","ratio":1.593,"seg":8},{"date":"2017-09","ratio":1.816,"seg":8},{"date":"2017-10","ratio":1.816,"seg":8},{"date":"2017-11","ratio":1.833,"seg":8},{"date":"2017-12","ratio":1.655,"seg":8},
{"date":"2018-01","ratio":1.623,"seg":8},{"date":"2018-02","ratio":1.632,"seg":8},{"date":"2018-03","ratio":1.732,"seg":8},{"date":"2018-04","ratio":1.690,"seg":8},{"date":"2018-05","ratio":1.743,"seg":8},{"date":"2018-06","ratio":1.721,"seg":8},{"date":"2018-07","ratio":1.763,"seg":8},{"date":"2018-08","ratio":1.682,"seg":8},{"date":"2018-09","ratio":1.816,"seg":8},{"date":"2018-10","ratio":1.809,"seg":8},{"date":"2018-11","ratio":1.844,"seg":8},{"date":"2018-12","ratio":1.858,"seg":8},{"date":"2019-01","ratio":1.886,"seg":8},
{"date":"2019-01","ratio":1.886,"seg":9},{"date":"2019-02","ratio":1.763,"seg":9},{"date":"2019-03","ratio":1.785,"seg":9},{"date":"2019-04","ratio":1.711,"seg":9},{"date":"2019-05","ratio":1.446,"seg":9},{"date":"2019-06","ratio":1.484,"seg":9},{"date":"2019-07","ratio":1.446,"seg":9},
{"date":"2019-07","ratio":1.446,"seg":10},{"date":"2019-08","ratio":1.481,"seg":10},{"date":"2019-09","ratio":1.544,"seg":10},{"date":"2019-10","ratio":1.551,"seg":10},{"date":"2019-11","ratio":1.565,"seg":10},{"date":"2019-12","ratio":1.554,"seg":10},
{"date":"2020-01","ratio":1.544,"seg":10},{"date":"2020-02","ratio":1.844,"seg":10},{"date":"2020-03","ratio":1.844,"seg":10},{"date":"2020-04","ratio":1.697,"seg":10},{"date":"2020-05","ratio":1.683,"seg":10},{"date":"2020-06","ratio":1.833,"seg":10},{"date":"2020-07","ratio":1.875,"seg":10},{"date":"2020-08","ratio":1.875,"seg":10},{"date":"2020-09","ratio":1.844,"seg":10},{"date":"2020-10","ratio":1.902,"seg":10},
{"date":"2020-10","ratio":1.902,"seg":11},{"date":"2020-11","ratio":1.816,"seg":11},{"date":"2020-12","ratio":1.662,"seg":11},{"date":"2021-01","ratio":1.746,"seg":11},{"date":"2021-02","ratio":1.746,"seg":11},{"date":"2021-03","ratio":1.725,"seg":11},{"date":"2021-04","ratio":1.604,"seg":11},
{"date":"2021-04","ratio":1.604,"seg":12},{"date":"2021-05","ratio":1.702,"seg":12},{"date":"2021-06","ratio":1.711,"seg":12},{"date":"2021-07","ratio":1.725,"seg":12},{"date":"2021-08","ratio":1.704,"seg":12},{"date":"2021-09","ratio":1.791,"seg":12},{"date":"2021-10","ratio":1.816,"seg":12},{"date":"2021-11","ratio":1.802,"seg":12},{"date":"2021-12","ratio":1.855,"seg":12},
{"date":"2021-12","ratio":1.855,"seg":13},
{"date":"2022-01","ratio":1.732,"seg":13},{"date":"2022-02","ratio":1.725,"seg":13},{"date":"2022-03","ratio":1.725,"seg":13},{"date":"2022-04","ratio":1.590,"seg":13},{"date":"2022-05","ratio":1.665,"seg":13},{"date":"2022-06","ratio":1.596,"seg":13},{"date":"2022-07","ratio":1.593,"seg":13},{"date":"2022-08","ratio":1.523,"seg":13},{"date":"2022-09","ratio":1.576,"seg":13},{"date":"2022-10","ratio":1.576,"seg":13},{"date":"2022-11","ratio":1.635,"seg":13},{"date":"2022-12","ratio":1.544,"seg":13},
{"date":"2023-01","ratio":1.576,"seg":13},{"date":"2023-02","ratio":1.470,"seg":13},{"date":"2023-03","ratio":1.554,"seg":13},{"date":"2023-04","ratio":1.516,"seg":13},{"date":"2023-05","ratio":1.293,"seg":13},{"date":"2023-06","ratio":1.335,"seg":13},{"date":"2023-07","ratio":1.344,"seg":13},{"date":"2023-08","ratio":1.335,"seg":13},{"date":"2023-09","ratio":1.414,"seg":13},{"date":"2023-10","ratio":1.400,"seg":13},{"date":"2023-11","ratio":1.411,"seg":13},{"date":"2023-12","ratio":1.422,"seg":13},
{"date":"2024-01","ratio":1.362,"seg":13},{"date":"2024-02","ratio":1.386,"seg":13},{"date":"2024-03","ratio":1.484,"seg":13},{"date":"2024-04","ratio":1.411,"seg":13},{"date":"2024-05","ratio":1.467,"seg":13},{"date":"2024-06","ratio":1.428,"seg":13},{"date":"2024-07","ratio":1.383,"seg":13},{"date":"2024-08","ratio":1.456,"seg":13},{"date":"2024-09","ratio":1.428,"seg":13},{"date":"2024-10","ratio":1.506,"seg":13},{"date":"2024-11","ratio":1.456,"seg":13},{"date":"2024-12","ratio":1.411,"seg":13},
{"date":"2025-01","ratio":1.425,"seg":13},{"date":"2025-02","ratio":1.453,"seg":13},{"date":"2025-03","ratio":1.362,"seg":13},{"date":"2025-04","ratio":1.342,"seg":13},{"date":"2025-05","ratio":1.30,"seg":13},{"date":"2025-06","ratio":1.26,"seg":13},{"date":"2025-07","ratio":1.215,"seg":13}
]
},
"layer":[
{"layer":[
{"data":{"name":"ratio"},
 "mark":{"type":"line","strokeWidth":2.6,"strokeJoin":"round"},
 "encoding":{
  "x":{"field":"date","type":"temporal","title":null,
   "scale":{"domain":[{"year":1997,"month":11,"date":1},{"year":2025,"month":7,"date":16}]},
   "axis":{"values":[{"year":2000,"month":1,"date":1},{"year":2004,"month":1,"date":1},{"year":2008,"month":1,"date":1},{"year":2012,"month":1,"date":1},{"year":2016,"month":1,"date":1},{"year":2020,"month":1,"date":1},{"year":2024,"month":1,"date":1}],
    "format":"%b %Y","labelFontSize":16.7,"labelColor":"#262626","tickSize":-5,"tickColor":"#262626","tickWidth":1,"labelPadding":11,"domainColor":"#000000","domainWidth":2,"grid":false,"title":null,"labelFlush":false}},
  "y":{"field":"ratio","type":"quantitative",
   "scale":{"domain":[0.27,2.266],"nice":false,"zero":false},
   "axis":{"orient":"left","values":[0.5,0.75,1,1.25,1.5,1.75,2,2.25],"format":".2f","ticks":false,"tickSize":0,"labelPadding":6,"labelFontSize":16.7,"labelColor":"#262626","domainColor":"#000000","domainWidth":2,"grid":false,"title":"Ratio of Milan / Athens","titleFontSize":17.5,"titleFontWeight":"normal","titleColor":"#262626","titlePadding":7}},
  "color":{"field":"seg","type":"nominal","legend":null,
   "scale":{"domain":[0,1,2,3,4,5,6,7,8,9,10,11,12,13],"range":["#000000","#ff0000","#000000","#ff0000","#000000","#ff0000","#000000","#ff0000","#000000","#ff0000","#000000","#ff0000","#000000","#ff0000"]}}
 }},
{"data":{"values":[{"level":1}]},
 "mark":{"type":"rule","color":"#ffa500","strokeWidth":2,"strokeDash":[7.4,3.2]},
 "encoding":{"y":{"field":"level","type":"quantitative"}}},
{"data":{"name":"events"},
 "mark":{"type":"rule","color":"#808080","strokeWidth":1.2,"strokeDash":[4.4,2.6]},
 "encoding":{"x":{"field":"date","type":"temporal","title":null},"y":{"datum":2.266},"y2":{"datum":0.27}}},
{"data":{"name":"events"},
 "mark":{"type":"text","angle":270,"align":"left","baseline":"middle","fontSize":11.8,"color":"#333333","dx":1},
 "encoding":{"x":{"field":"date","type":"temporal","title":null},"y":{"datum":2.17},"text":{"field":"label"}}},
{"data":{"values":[{"date":"1997-11","label":"Nov 1997"}]},
 "mark":{"type":"text","align":"center","baseline":"middle","fontSize":13,"color":"#000000"},
 "encoding":{"x":{"field":"date","type":"temporal","title":null},"y":{"datum":0.305},"text":{"field":"label"}}},
{"data":{"values":[{"label":"RATIO"}]},
 "mark":{"type":"rect","fill":"#ffffff","stroke":"#ff0000","strokeWidth":1.5,"cornerRadius":6},
 "encoding":{"x":{"datum":{"year":2023,"month":9,"date":28},"type":"temporal"},"x2":{"datum":{"year":2025,"month":6,"date":19}},"y":{"datum":2.297},"y2":{"datum":2.171}}},
{"data":{"values":[{"label":"RATIO"}]},
 "mark":{"type":"text","align":"center","baseline":"middle","fontSize":20,"fontWeight":"bold","color":"#000000"},
 "encoding":{"x":{"datum":{"year":2024,"month":8,"date":7},"type":"temporal"},"y":{"datum":2.237},"text":{"field":"label"}}}
]},
{"layer":[
{"data":{"name":"milan"},
 "mark":{"type":"line","color":"#008000","opacity":0.6,"strokeWidth":2,"strokeJoin":"round"},
 "encoding":{"x":{"field":"date","type":"temporal","title":null},
  "y":{"field":"value","type":"quantitative","scale":{"domain":[17.8,407.7],"nice":false,"zero":false},
   "axis":{"orient":"right","values":[50,100,150,200,250,300,350,400],"domain":false,"tickSize":-5,"tickColor":"#262626","tickWidth":1,"labelPadding":12,"labelFontSize":16.7,"labelColor":"#262626","grid":false,"title":"Normalized Stock Indices","titleFontSize":17.5,"titleFontWeight":"normal","titleColor":"#262626","titleAngle":270,"titleBaseline":"top","titlePadding":3}}}},
{"data":{"name":"athens"},
 "mark":{"type":"line","color":"#0000ff","opacity":0.6,"strokeWidth":2,"strokeJoin":"round"},
 "encoding":{"x":{"field":"date","type":"temporal","title":null},
  "y":{"field":"value","type":"quantitative","scale":{"domain":[17.8,407.7],"nice":false,"zero":false},
   "axis":{"orient":"right","values":[50,100,150,200,250,300,350,400],"domain":false,"tickSize":-5,"tickColor":"#262626","tickWidth":1,"labelPadding":12,"labelFontSize":16.7,"labelColor":"#262626","grid":false,"title":"Normalized Stock Indices","titleFontSize":17.5,"titleFontWeight":"normal","titleColor":"#262626","titleAngle":270,"titleBaseline":"top","titlePadding":3}}}},
{"data":{"values":[{"label":"Milan"}]},
 "mark":{"type":"text","align":"right","baseline":"middle","fontSize":16,"fontWeight":"bold","color":"#008000"},
 "encoding":{"x":{"datum":{"year":2025,"month":7,"date":16},"type":"temporal"},"y":{"datum":174.9},"text":{"field":"label"}}},
{"data":{"values":[{"label":"Athens"}]},
 "mark":{"type":"text","align":"right","baseline":"middle","fontSize":16,"fontWeight":"bold","color":"#0000ff"},
 "encoding":{"x":{"datum":{"year":2025,"month":8,"date":24},"type":"temporal"},"y":{"datum":54.7},"text":{"field":"label"}}}
]}
],
"resolve":{"scale":{"y":"independent"}}
}
